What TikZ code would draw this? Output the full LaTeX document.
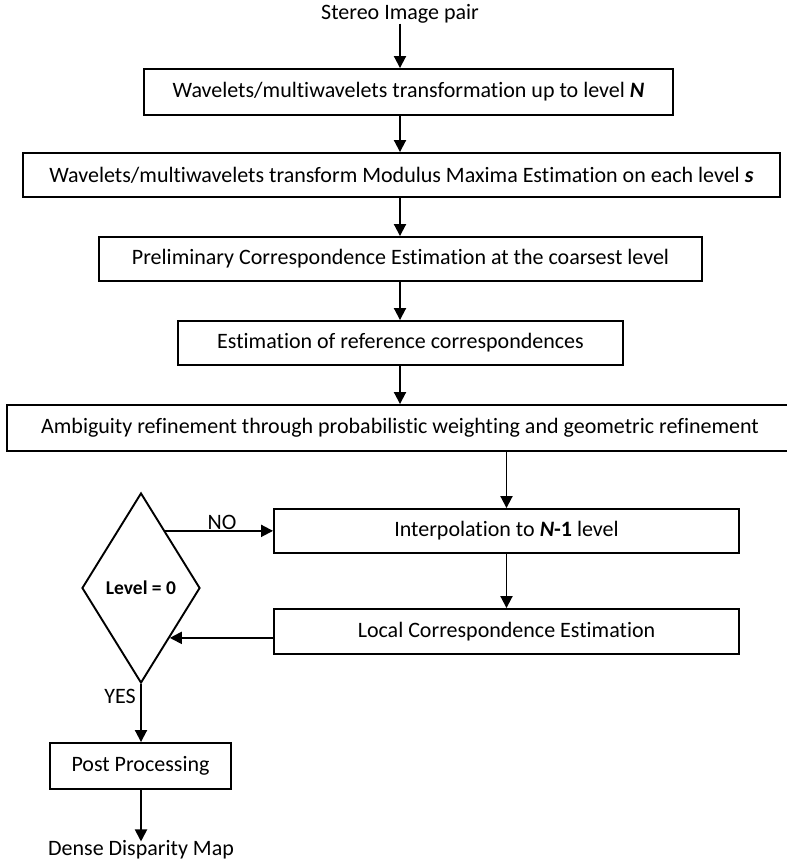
\documentclass[tikz,border=0pt]{standalone}
\usepackage{fontspec}
\setmainfont{Carlito}[Ligatures=NoCommon]
\usetikzlibrary{shapes.geometric,arrows.meta}
\begin{document}
\begin{tikzpicture}[x=1pt,y=-1pt,
  box/.style={draw, line width=1.9pt, inner sep=0pt, font=\fontsize{22}{26}\selectfont},
  arr/.style={line width=1.9pt, -{Triangle[length=12pt,width=12pt]}},
  lbl/.style={inner sep=0pt, font=\fontsize{22}{26}\selectfont},
  dec/.style={draw, shape=diamond, line width=1.9pt, inner sep=0pt, minimum width=118pt, minimum height=190pt, font=\bfseries\fontsize{19.5}{23}\selectfont}]
\useasboundingbox (0,0) rectangle (787,863);
\node[lbl] (s) at (400,14) {Stereo Image pair};
\node[box, minimum width=529pt, minimum height=46pt] (b1) at (408.5,92) {Wavelets/multiwavelets transformation up to level \textbf{\textit{N}}};
\node[box, minimum width=757pt, minimum height=44pt] (b2) at (401.5,175) {Wavelets/multiwavelets transform Modulus Maxima Estimation on each level \textbf{\textit{s}}};
\node[box, minimum width=603pt, minimum height=44pt] (b3) at (400.5,259) {Preliminary Correspondence Estimation at the coarsest level};
\node[box, minimum width=445pt, minimum height=44pt] (b4) at (400.5,343) {Estimation of reference correspondences};
\node[box, minimum width=786pt, minimum height=46pt] (b5) at (400,428) {Ambiguity refinement through probabilistic weighting and geometric refinement};
\node[box, minimum width=465pt, minimum height=44pt] (b6) at (506.5,531) {Interpolation to \textbf{\textit{N}-1} level};
\node[box, minimum width=465pt, minimum height=45pt] (b7) at (506.5,631.5) {Local Correspondence Estimation};
\node[dec] (d) at (141,588) {Level = 0};
\node[box, minimum width=181pt, minimum height=46pt] (pp) at (140.5,766) {Post Processing};
\node[lbl] (dm) at (141,850) {Dense Disparity Map};
\node[lbl] (no) at (222,522) {NO};
\node[lbl] (yes) at (120,696) {YES};
\draw[arr] (s.south) -- (s |- b1.north);
\draw[arr] (b1.south -| s) -- (b2.north -| s);
\draw[arr] (b2.south -| s) -- (b3.north -| s);
\draw[arr] (b3.south -| s) -- (b4.north -| s);
\draw[arr] (b4.south -| s) -- (b5.north -| s);
\draw[arr] (b5.south -| b6) -- (b6.north);
\draw[arr] (b6.south) -- (b7.north);
\draw[arr] (d.67.5) -- (d.67.5 -| b6.west);
\draw[arr] (d.-60.8 -| b7.west) -- (d.-60.8);
\draw[arr] (d.south) -- (d.south |- pp.north);
\draw[arr] (pp.south -| d) -- ([yshift=-1pt]dm.north -| d);
\end{tikzpicture}
\end{document}
